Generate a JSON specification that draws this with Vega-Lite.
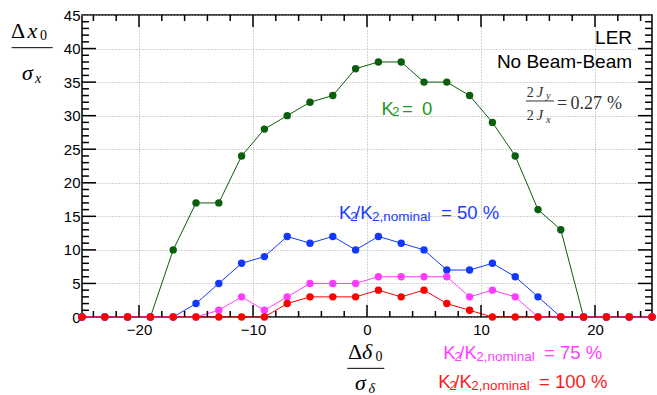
{
  "$schema": "https://vega.github.io/schema/vega-lite/v6.json",
  "width": 570,
  "height": 302,
  "autosize": {"type": "none"},
  "padding": {"left": 82, "top": 15, "right": 5, "bottom": 78},
  "background": "#ffffff",
  "config": {"view": {"stroke": "#000000", "strokeWidth": 1.5}},
  "datasets": {
    "pts": [
      {"x": -25, "y": 0, "c": "g"}, {"x": -23, "y": 0, "c": "g"}, {"x": -21, "y": 0, "c": "g"}, {"x": -19, "y": 0, "c": "g"}, {"x": -17, "y": 10, "c": "g"}, {"x": -15, "y": 17, "c": "g"}, {"x": -13, "y": 17, "c": "g"}, {"x": -11, "y": 24, "c": "g"}, {"x": -9, "y": 28, "c": "g"}, {"x": -7, "y": 30, "c": "g"}, {"x": -5, "y": 32, "c": "g"}, {"x": -3, "y": 33, "c": "g"}, {"x": -1, "y": 37, "c": "g"}, {"x": 1, "y": 38, "c": "g"}, {"x": 3, "y": 38, "c": "g"}, {"x": 5, "y": 35, "c": "g"}, {"x": 7, "y": 35, "c": "g"}, {"x": 9, "y": 33, "c": "g"}, {"x": 11, "y": 29, "c": "g"}, {"x": 13, "y": 24, "c": "g"}, {"x": 15, "y": 16, "c": "g"}, {"x": 17, "y": 13, "c": "g"}, {"x": 19, "y": 0, "c": "g"}, {"x": 21, "y": 0, "c": "g"}, {"x": 23, "y": 0, "c": "g"}, {"x": 25, "y": 0, "c": "g"},
      {"x": -25, "y": 0, "c": "b"}, {"x": -23, "y": 0, "c": "b"}, {"x": -21, "y": 0, "c": "b"}, {"x": -19, "y": 0, "c": "b"}, {"x": -17, "y": 0, "c": "b"}, {"x": -15, "y": 2, "c": "b"}, {"x": -13, "y": 5, "c": "b"}, {"x": -11, "y": 8, "c": "b"}, {"x": -9, "y": 9, "c": "b"}, {"x": -7, "y": 12, "c": "b"}, {"x": -5, "y": 11, "c": "b"}, {"x": -3, "y": 12, "c": "b"}, {"x": -1, "y": 10, "c": "b"}, {"x": 1, "y": 12, "c": "b"}, {"x": 3, "y": 11, "c": "b"}, {"x": 5, "y": 10, "c": "b"}, {"x": 7, "y": 7, "c": "b"}, {"x": 9, "y": 7, "c": "b"}, {"x": 11, "y": 8, "c": "b"}, {"x": 13, "y": 6, "c": "b"}, {"x": 15, "y": 3, "c": "b"}, {"x": 17, "y": 0, "c": "b"}, {"x": 19, "y": 0, "c": "b"}, {"x": 21, "y": 0, "c": "b"}, {"x": 23, "y": 0, "c": "b"}, {"x": 25, "y": 0, "c": "b"},
      {"x": -25, "y": 0, "c": "m"}, {"x": -23, "y": 0, "c": "m"}, {"x": -21, "y": 0, "c": "m"}, {"x": -19, "y": 0, "c": "m"}, {"x": -17, "y": 0, "c": "m"}, {"x": -15, "y": 0, "c": "m"}, {"x": -13, "y": 1, "c": "m"}, {"x": -11, "y": 3, "c": "m"}, {"x": -9, "y": 1, "c": "m"}, {"x": -7, "y": 3, "c": "m"}, {"x": -5, "y": 5, "c": "m"}, {"x": -3, "y": 5, "c": "m"}, {"x": -1, "y": 5, "c": "m"}, {"x": 1, "y": 6, "c": "m"}, {"x": 3, "y": 6, "c": "m"}, {"x": 5, "y": 6, "c": "m"}, {"x": 7, "y": 6, "c": "m"}, {"x": 9, "y": 3, "c": "m"}, {"x": 11, "y": 4, "c": "m"}, {"x": 13, "y": 3, "c": "m"}, {"x": 15, "y": 0, "c": "m"}, {"x": 17, "y": 0, "c": "m"}, {"x": 19, "y": 0, "c": "m"}, {"x": 21, "y": 0, "c": "m"}, {"x": 23, "y": 0, "c": "m"}, {"x": 25, "y": 0, "c": "m"},
      {"x": -25, "y": 0, "c": "r"}, {"x": -23, "y": 0, "c": "r"}, {"x": -21, "y": 0, "c": "r"}, {"x": -19, "y": 0, "c": "r"}, {"x": -17, "y": 0, "c": "r"}, {"x": -15, "y": 0, "c": "r"}, {"x": -13, "y": 0, "c": "r"}, {"x": -11, "y": 0, "c": "r"}, {"x": -9, "y": 0, "c": "r"}, {"x": -7, "y": 2, "c": "r"}, {"x": -5, "y": 3, "c": "r"}, {"x": -3, "y": 3, "c": "r"}, {"x": -1, "y": 3, "c": "r"}, {"x": 1, "y": 4, "c": "r"}, {"x": 3, "y": 3, "c": "r"}, {"x": 5, "y": 4, "c": "r"}, {"x": 7, "y": 2, "c": "r"}, {"x": 9, "y": 1, "c": "r"}, {"x": 11, "y": 0, "c": "r"}, {"x": 13, "y": 0, "c": "r"}, {"x": 15, "y": 0, "c": "r"}, {"x": 17, "y": 0, "c": "r"}, {"x": 19, "y": 0, "c": "r"}, {"x": 21, "y": 0, "c": "r"}, {"x": 23, "y": 0, "c": "r"}, {"x": 25, "y": 0, "c": "r"}
    ],
    "xmaj": [{"v": -20}, {"v": -10}, {"v": 0}, {"v": 10}, {"v": 20}],
    "xmin": [{"v": -24}, {"v": -22}, {"v": -18}, {"v": -16}, {"v": -14}, {"v": -12}, {"v": -8}, {"v": -6}, {"v": -4}, {"v": -2}, {"v": 2}, {"v": 4}, {"v": 6}, {"v": 8}, {"v": 12}, {"v": 14}, {"v": 16}, {"v": 18}, {"v": 22}, {"v": 24}],
    "ymaj": [{"v": 5}, {"v": 10}, {"v": 15}, {"v": 20}, {"v": 25}, {"v": 30}, {"v": 35}, {"v": 40}],
    "ymin": [{"v": 1}, {"v": 2}, {"v": 3}, {"v": 4}, {"v": 6}, {"v": 7}, {"v": 8}, {"v": 9}, {"v": 11}, {"v": 12}, {"v": 13}, {"v": 14}, {"v": 16}, {"v": 17}, {"v": 18}, {"v": 19}, {"v": 21}, {"v": 22}, {"v": 23}, {"v": 24}, {"v": 26}, {"v": 27}, {"v": 28}, {"v": 29}, {"v": 31}, {"v": 32}, {"v": 33}, {"v": 34}, {"v": 36}, {"v": 37}, {"v": 38}, {"v": 39}, {"v": 41}, {"v": 42}, {"v": 43}, {"v": 44}],
    "lab_main": [
      {"x": 1.27, "y": 30.10, "t": "K", "c": "gt"},
      {"x": 3.07, "y": 30.10, "t": "=", "c": "gt"},
      {"x": 4.82, "y": 30.10, "t": "0", "c": "gt"},
      {"x": -2.46, "y": 14.56, "t": "K", "c": "bt"},
      {"x": -1.05, "y": 14.56, "t": "/K", "c": "bt"},
      {"x": 6.49, "y": 14.56, "t": "= 50 %", "c": "bt"},
      {"x": 6.69, "y": -6.30, "t": "K", "c": "mt"},
      {"x": 8.10, "y": -6.30, "t": "/K", "c": "mt"},
      {"x": 15.53, "y": -6.30, "t": "= 75 %", "c": "mt"},
      {"x": 6.25, "y": -10.63, "t": "K", "c": "rt"},
      {"x": 7.66, "y": -10.63, "t": "/K", "c": "rt"},
      {"x": 15.09, "y": -10.63, "t": "= 100 %", "c": "rt"}
    ],
    "lab_sub": [
      {"x": 2.2, "y": 29.88, "t": "2", "c": "gt"},
      {"x": -1.5, "y": 14.30, "t": "2", "c": "bt"},
      {"x": 0.44, "y": 14.30, "t": "2,nominal", "c": "bt"},
      {"x": 7.65, "y": -6.56, "t": "2", "c": "mt"},
      {"x": 9.59, "y": -6.56, "t": "2,nominal", "c": "mt"},
      {"x": 7.21, "y": -10.88, "t": "2", "c": "rt"},
      {"x": 9.15, "y": -10.88, "t": "2,nominal", "c": "rt"}
    ],
    "lab_right": [
      {"x": 23.25, "y": 40.68, "t": "LER", "c": "k"},
      {"x": 23.25, "y": 37.10, "t": "No Beam-Beam", "c": "k"}
    ],
    "title_big": [
      {"x": -31.23, "y": 41.50, "t": "Δ", "c": "k"},
      {"x": -1.67, "y": -6.26, "t": "Δ", "c": "k"}
    ],
    "title_big_i": [
      {"x": -29.78, "y": 41.50, "t": "x", "c": "k"},
      {"x": -30.26, "y": 35.31, "t": "σ", "c": "k"},
      {"x": -0.44, "y": -6.26, "t": "δ", "c": "k"},
      {"x": -1.05, "y": -10.88, "t": "σ", "c": "k"}
    ],
    "title_sub": [
      {"x": -28.68, "y": 41.27, "t": "0", "c": "k"},
      {"x": 0.75, "y": -6.56, "t": "0", "c": "k"}
    ],
    "title_sub_i": [
      {"x": -29.12, "y": 34.87, "t": "x", "c": "k"},
      {"x": 0.13, "y": -11.32, "t": "δ", "c": "k"}
    ],
    "frac_num": [
      {"x": 14.01, "y": 32.83, "t": "2", "c": "gr"},
      {"x": 14.01, "y": 29.35, "t": "2", "c": "gr"}
    ],
    "frac_main": [
      {"x": 16.67, "y": 30.99, "t": "=", "c": "gr"},
      {"x": 17.85, "y": 30.99, "t": "0.27", "c": "gr"},
      {"x": 21.05, "y": 30.99, "t": "%", "c": "gr"}
    ],
    "frac_i": [
      {"x": 14.87, "y": 32.83, "t": "J", "c": "gr"},
      {"x": 14.87, "y": 29.35, "t": "J", "c": "gr"}
    ],
    "frac_sub": [
      {"x": 15.70, "y": 32.48, "t": "y", "c": "gr"},
      {"x": 15.70, "y": 28.91, "t": "x", "c": "gr"}
    ],
    "bars": [
      {"x": -31.17, "x2": -27.57, "y": 40.13, "c": "k"},
      {"x": -1.73, "x2": 1.52, "y": -7.65, "c": "k"},
      {"x": 13.95, "x2": 16.40, "y": 32.19, "c": "gr"}
    ]
  },
  "resolve": {"scale": {"x": "independent", "y": "independent"}, "axis": {"x": "independent", "y": "independent"}},
  "layer": [
    {
      "data": {"name": "pts"},
      "mark": {"type": "point", "opacity": 0},
      "encoding": {
        "x": {"field": "x", "type": "quantitative", "scale": {"domain": [-25, 25], "nice": false},
          "axis": {"orient": "bottom", "values": [-20, -10, 0, 10, 20], "ticks": false, "domain": false, "grid": true, "gridColor": "#a8a8a8", "gridDash": [1, 2], "gridWidth": 1, "labelFont": "Liberation Sans Narrow, Liberation Sans", "labelFontSize": 15, "labelColor": "#000000", "labelPadding": 5, "labelFlush": false, "title": null}},
        "y": {"field": "y", "type": "quantitative", "scale": {"domain": [0, 45], "nice": false},
          "axis": {"orient": "left", "values": [0, 5, 10, 15, 20, 25, 30, 35, 40, 45], "ticks": false, "domain": false, "grid": true, "gridColor": "#a8a8a8", "gridDash": [1, 2], "gridWidth": 1, "labelFont": "Liberation Sans Narrow, Liberation Sans", "labelFontSize": 15, "labelColor": "#000000", "labelPadding": 2, "labelFlush": false, "title": null}}
      }
    },
    {
      "data": {"name": "pts"},
      "transform": [{"filter": "datum.c === 'g'"}],
      "mark": {"type": "line", "strokeWidth": 1},
      "encoding": {
        "x": {"field": "x", "type": "quantitative", "scale": {"domain": [-25, 25], "nice": false}, "axis": null},
        "y": {"field": "y", "type": "quantitative", "scale": {"domain": [0, 45], "nice": false}, "axis": null},
        "color": {"field": "c", "type": "nominal", "scale": {"domain": ["g", "b", "m", "r", "gt", "bt", "mt", "rt", "k", "gr"], "range": ["#0b5e0b", "#1238ff", "#ff3cff", "#ff0000", "#1f961f", "#1a3cff", "#ff40ff", "#ff1a1a", "#000000", "#333333"]}, "legend": null}
      }
    },
    {
      "data": {"name": "pts"},
      "transform": [{"filter": "datum.c === 'g'"}],
      "mark": {"type": "point", "filled": true, "size": 55, "opacity": 1},
      "encoding": {
        "x": {"field": "x", "type": "quantitative", "scale": {"domain": [-25, 25], "nice": false}, "axis": null},
        "y": {"field": "y", "type": "quantitative", "scale": {"domain": [0, 45], "nice": false}, "axis": null},
        "color": {"field": "c", "type": "nominal", "scale": {"domain": ["g", "b", "m", "r", "gt", "bt", "mt", "rt", "k", "gr"], "range": ["#0b5e0b", "#1238ff", "#ff3cff", "#ff0000", "#1f961f", "#1a3cff", "#ff40ff", "#ff1a1a", "#000000", "#333333"]}, "legend": null}
      }
    },
    {
      "data": {"name": "pts"},
      "transform": [{"filter": "datum.c === 'b'"}],
      "mark": {"type": "line", "strokeWidth": 1},
      "encoding": {
        "x": {"field": "x", "type": "quantitative", "scale": {"domain": [-25, 25], "nice": false}, "axis": null},
        "y": {"field": "y", "type": "quantitative", "scale": {"domain": [0, 45], "nice": false}, "axis": null},
        "color": {"field": "c", "type": "nominal", "scale": {"domain": ["g", "b", "m", "r", "gt", "bt", "mt", "rt", "k", "gr"], "range": ["#0b5e0b", "#1238ff", "#ff3cff", "#ff0000", "#1f961f", "#1a3cff", "#ff40ff", "#ff1a1a", "#000000", "#333333"]}, "legend": null}
      }
    },
    {
      "data": {"name": "pts"},
      "transform": [{"filter": "datum.c === 'b'"}],
      "mark": {"type": "point", "filled": true, "size": 55, "opacity": 1},
      "encoding": {
        "x": {"field": "x", "type": "quantitative", "scale": {"domain": [-25, 25], "nice": false}, "axis": null},
        "y": {"field": "y", "type": "quantitative", "scale": {"domain": [0, 45], "nice": false}, "axis": null},
        "color": {"field": "c", "type": "nominal", "scale": {"domain": ["g", "b", "m", "r", "gt", "bt", "mt", "rt", "k", "gr"], "range": ["#0b5e0b", "#1238ff", "#ff3cff", "#ff0000", "#1f961f", "#1a3cff", "#ff40ff", "#ff1a1a", "#000000", "#333333"]}, "legend": null}
      }
    },
    {
      "data": {"name": "pts"},
      "transform": [{"filter": "datum.c === 'm'"}],
      "mark": {"type": "line", "strokeWidth": 1},
      "encoding": {
        "x": {"field": "x", "type": "quantitative", "scale": {"domain": [-25, 25], "nice": false}, "axis": null},
        "y": {"field": "y", "type": "quantitative", "scale": {"domain": [0, 45], "nice": false}, "axis": null},
        "color": {"field": "c", "type": "nominal", "scale": {"domain": ["g", "b", "m", "r", "gt", "bt", "mt", "rt", "k", "gr"], "range": ["#0b5e0b", "#1238ff", "#ff3cff", "#ff0000", "#1f961f", "#1a3cff", "#ff40ff", "#ff1a1a", "#000000", "#333333"]}, "legend": null}
      }
    },
    {
      "data": {"name": "pts"},
      "transform": [{"filter": "datum.c === 'm'"}],
      "mark": {"type": "point", "filled": true, "size": 55, "opacity": 1},
      "encoding": {
        "x": {"field": "x", "type": "quantitative", "scale": {"domain": [-25, 25], "nice": false}, "axis": null},
        "y": {"field": "y", "type": "quantitative", "scale": {"domain": [0, 45], "nice": false}, "axis": null},
        "color": {"field": "c", "type": "nominal", "scale": {"domain": ["g", "b", "m", "r", "gt", "bt", "mt", "rt", "k", "gr"], "range": ["#0b5e0b", "#1238ff", "#ff3cff", "#ff0000", "#1f961f", "#1a3cff", "#ff40ff", "#ff1a1a", "#000000", "#333333"]}, "legend": null}
      }
    },
    {
      "data": {"name": "pts"},
      "transform": [{"filter": "datum.c === 'r'"}],
      "mark": {"type": "line", "strokeWidth": 1},
      "encoding": {
        "x": {"field": "x", "type": "quantitative", "scale": {"domain": [-25, 25], "nice": false}, "axis": null},
        "y": {"field": "y", "type": "quantitative", "scale": {"domain": [0, 45], "nice": false}, "axis": null},
        "color": {"field": "c", "type": "nominal", "scale": {"domain": ["g", "b", "m", "r", "gt", "bt", "mt", "rt", "k", "gr"], "range": ["#0b5e0b", "#1238ff", "#ff3cff", "#ff0000", "#1f961f", "#1a3cff", "#ff40ff", "#ff1a1a", "#000000", "#333333"]}, "legend": null}
      }
    },
    {
      "data": {"name": "pts"},
      "transform": [{"filter": "datum.c === 'r'"}],
      "mark": {"type": "point", "filled": true, "size": 55, "opacity": 1},
      "encoding": {
        "x": {"field": "x", "type": "quantitative", "scale": {"domain": [-25, 25], "nice": false}, "axis": null},
        "y": {"field": "y", "type": "quantitative", "scale": {"domain": [0, 45], "nice": false}, "axis": null},
        "color": {"field": "c", "type": "nominal", "scale": {"domain": ["g", "b", "m", "r", "gt", "bt", "mt", "rt", "k", "gr"], "range": ["#0b5e0b", "#1238ff", "#ff3cff", "#ff0000", "#1f961f", "#1a3cff", "#ff40ff", "#ff1a1a", "#000000", "#333333"]}, "legend": null}
      }
    },
    {
      "data": {"name": "lab_main"},
      "mark": {"type": "text", "align": "left", "baseline": "alphabetic", "font": "Liberation Sans", "fontSize": 18.5},
      "encoding": {
        "x": {"field": "x", "type": "quantitative", "scale": {"domain": [-25, 25], "nice": false}, "axis": null},
        "y": {"field": "y", "type": "quantitative", "scale": {"domain": [0, 45], "nice": false}, "axis": null},
        "text": {"field": "t"},
        "color": {"field": "c", "type": "nominal", "scale": {"domain": ["g", "b", "m", "r", "gt", "bt", "mt", "rt", "k", "gr"], "range": ["#0b5e0b", "#1238ff", "#ff3cff", "#ff0000", "#1f961f", "#1a3cff", "#ff40ff", "#ff1a1a", "#000000", "#333333"]}, "legend": null}
      }
    },
    {
      "data": {"name": "lab_sub"},
      "mark": {"type": "text", "align": "left", "baseline": "alphabetic", "font": "Liberation Sans", "fontSize": 13.5},
      "encoding": {
        "x": {"field": "x", "type": "quantitative", "scale": {"domain": [-25, 25], "nice": false}, "axis": null},
        "y": {"field": "y", "type": "quantitative", "scale": {"domain": [0, 45], "nice": false}, "axis": null},
        "text": {"field": "t"},
        "color": {"field": "c", "type": "nominal", "scale": {"domain": ["g", "b", "m", "r", "gt", "bt", "mt", "rt", "k", "gr"], "range": ["#0b5e0b", "#1238ff", "#ff3cff", "#ff0000", "#1f961f", "#1a3cff", "#ff40ff", "#ff1a1a", "#000000", "#333333"]}, "legend": null}
      }
    },
    {
      "data": {"name": "lab_right"},
      "mark": {"type": "text", "align": "right", "baseline": "alphabetic", "font": "Liberation Sans", "fontSize": 19},
      "encoding": {
        "x": {"field": "x", "type": "quantitative", "scale": {"domain": [-25, 25], "nice": false}, "axis": null},
        "y": {"field": "y", "type": "quantitative", "scale": {"domain": [0, 45], "nice": false}, "axis": null},
        "text": {"field": "t"},
        "color": {"field": "c", "type": "nominal", "scale": {"domain": ["g", "b", "m", "r", "gt", "bt", "mt", "rt", "k", "gr"], "range": ["#0b5e0b", "#1238ff", "#ff3cff", "#ff0000", "#1f961f", "#1a3cff", "#ff40ff", "#ff1a1a", "#000000", "#333333"]}, "legend": null}
      }
    },
    {
      "data": {"name": "title_big"},
      "mark": {"type": "text", "align": "left", "baseline": "alphabetic", "font": "Liberation Serif", "fontSize": 22},
      "encoding": {
        "x": {"field": "x", "type": "quantitative", "scale": {"domain": [-25, 25], "nice": false}, "axis": null},
        "y": {"field": "y", "type": "quantitative", "scale": {"domain": [0, 45], "nice": false}, "axis": null},
        "text": {"field": "t"},
        "color": {"field": "c", "type": "nominal", "scale": {"domain": ["g", "b", "m", "r", "gt", "bt", "mt", "rt", "k", "gr"], "range": ["#0b5e0b", "#1238ff", "#ff3cff", "#ff0000", "#1f961f", "#1a3cff", "#ff40ff", "#ff1a1a", "#000000", "#333333"]}, "legend": null}
      }
    },
    {
      "data": {"name": "title_big_i"},
      "mark": {"type": "text", "align": "left", "baseline": "alphabetic", "font": "Liberation Serif", "fontStyle": "italic", "fontSize": 22},
      "encoding": {
        "x": {"field": "x", "type": "quantitative", "scale": {"domain": [-25, 25], "nice": false}, "axis": null},
        "y": {"field": "y", "type": "quantitative", "scale": {"domain": [0, 45], "nice": false}, "axis": null},
        "text": {"field": "t"},
        "color": {"field": "c", "type": "nominal", "scale": {"domain": ["g", "b", "m", "r", "gt", "bt", "mt", "rt", "k", "gr"], "range": ["#0b5e0b", "#1238ff", "#ff3cff", "#ff0000", "#1f961f", "#1a3cff", "#ff40ff", "#ff1a1a", "#000000", "#333333"]}, "legend": null}
      }
    },
    {
      "data": {"name": "title_sub"},
      "mark": {"type": "text", "align": "left", "baseline": "alphabetic", "font": "Liberation Serif", "fontSize": 14},
      "encoding": {
        "x": {"field": "x", "type": "quantitative", "scale": {"domain": [-25, 25], "nice": false}, "axis": null},
        "y": {"field": "y", "type": "quantitative", "scale": {"domain": [0, 45], "nice": false}, "axis": null},
        "text": {"field": "t"},
        "color": {"field": "c", "type": "nominal", "scale": {"domain": ["g", "b", "m", "r", "gt", "bt", "mt", "rt", "k", "gr"], "range": ["#0b5e0b", "#1238ff", "#ff3cff", "#ff0000", "#1f961f", "#1a3cff", "#ff40ff", "#ff1a1a", "#000000", "#333333"]}, "legend": null}
      }
    },
    {
      "data": {"name": "title_sub_i"},
      "mark": {"type": "text", "align": "left", "baseline": "alphabetic", "font": "Liberation Serif", "fontStyle": "italic", "fontSize": 14},
      "encoding": {
        "x": {"field": "x", "type": "quantitative", "scale": {"domain": [-25, 25], "nice": false}, "axis": null},
        "y": {"field": "y", "type": "quantitative", "scale": {"domain": [0, 45], "nice": false}, "axis": null},
        "text": {"field": "t"},
        "color": {"field": "c", "type": "nominal", "scale": {"domain": ["g", "b", "m", "r", "gt", "bt", "mt", "rt", "k", "gr"], "range": ["#0b5e0b", "#1238ff", "#ff3cff", "#ff0000", "#1f961f", "#1a3cff", "#ff40ff", "#ff1a1a", "#000000", "#333333"]}, "legend": null}
      }
    },
    {
      "data": {"name": "frac_num"},
      "mark": {"type": "text", "align": "left", "baseline": "alphabetic", "font": "Liberation Serif", "fontSize": 14},
      "encoding": {
        "x": {"field": "x", "type": "quantitative", "scale": {"domain": [-25, 25], "nice": false}, "axis": null},
        "y": {"field": "y", "type": "quantitative", "scale": {"domain": [0, 45], "nice": false}, "axis": null},
        "text": {"field": "t"},
        "color": {"field": "c", "type": "nominal", "scale": {"domain": ["g", "b", "m", "r", "gt", "bt", "mt", "rt", "k", "gr"], "range": ["#0b5e0b", "#1238ff", "#ff3cff", "#ff0000", "#1f961f", "#1a3cff", "#ff40ff", "#ff1a1a", "#000000", "#333333"]}, "legend": null}
      }
    },
    {
      "data": {"name": "frac_main"},
      "mark": {"type": "text", "align": "left", "baseline": "alphabetic", "font": "Liberation Serif", "fontSize": 18},
      "encoding": {
        "x": {"field": "x", "type": "quantitative", "scale": {"domain": [-25, 25], "nice": false}, "axis": null},
        "y": {"field": "y", "type": "quantitative", "scale": {"domain": [0, 45], "nice": false}, "axis": null},
        "text": {"field": "t"},
        "color": {"field": "c", "type": "nominal", "scale": {"domain": ["g", "b", "m", "r", "gt", "bt", "mt", "rt", "k", "gr"], "range": ["#0b5e0b", "#1238ff", "#ff3cff", "#ff0000", "#1f961f", "#1a3cff", "#ff40ff", "#ff1a1a", "#000000", "#333333"]}, "legend": null}
      }
    },
    {
      "data": {"name": "frac_i"},
      "mark": {"type": "text", "align": "left", "baseline": "alphabetic", "font": "Liberation Serif", "fontStyle": "italic", "fontSize": 15},
      "encoding": {
        "x": {"field": "x", "type": "quantitative", "scale": {"domain": [-25, 25], "nice": false}, "axis": null},
        "y": {"field": "y", "type": "quantitative", "scale": {"domain": [0, 45], "nice": false}, "axis": null},
        "text": {"field": "t"},
        "color": {"field": "c", "type": "nominal", "scale": {"domain": ["g", "b", "m", "r", "gt", "bt", "mt", "rt", "k", "gr"], "range": ["#0b5e0b", "#1238ff", "#ff3cff", "#ff0000", "#1f961f", "#1a3cff", "#ff40ff", "#ff1a1a", "#000000", "#333333"]}, "legend": null}
      }
    },
    {
      "data": {"name": "frac_sub"},
      "mark": {"type": "text", "align": "left", "baseline": "alphabetic", "font": "Liberation Serif", "fontStyle": "italic", "fontSize": 10.5},
      "encoding": {
        "x": {"field": "x", "type": "quantitative", "scale": {"domain": [-25, 25], "nice": false}, "axis": null},
        "y": {"field": "y", "type": "quantitative", "scale": {"domain": [0, 45], "nice": false}, "axis": null},
        "text": {"field": "t"},
        "color": {"field": "c", "type": "nominal", "scale": {"domain": ["g", "b", "m", "r", "gt", "bt", "mt", "rt", "k", "gr"], "range": ["#0b5e0b", "#1238ff", "#ff3cff", "#ff0000", "#1f961f", "#1a3cff", "#ff40ff", "#ff1a1a", "#000000", "#333333"]}, "legend": null}
      }
    },
    {
      "data": {"name": "bars"},
      "mark": {"type": "rule", "strokeWidth": 1},
      "encoding": {
        "x": {"field": "x", "type": "quantitative", "scale": {"domain": [-25, 25], "nice": false}, "axis": null},
        "x2": {"field": "x2"},
        "y": {"field": "y", "type": "quantitative", "scale": {"domain": [0, 45], "nice": false}, "axis": null},
        "color": {"field": "c", "type": "nominal", "scale": {"domain": ["g", "b", "m", "r", "gt", "bt", "mt", "rt", "k", "gr"], "range": ["#0b5e0b", "#1238ff", "#ff3cff", "#ff0000", "#1f961f", "#1a3cff", "#ff40ff", "#ff1a1a", "#000000", "#333333"]}, "legend": null}
      }
    },
    {
      "data": {"name": "xmaj"},
      "mark": {"type": "rule", "strokeWidth": 1.5, "color": "#000000"},
      "encoding": {
        "x": {"field": "v", "type": "quantitative", "scale": {"domain": [-25, 25], "nice": false}, "axis": null},
        "y": {"datum": 0, "type": "quantitative", "scale": {"domain": [0, 45], "nice": false}, "axis": null},
        "y2": {"datum": 1.79}
      }
    },
    {
      "data": {"name": "xmaj"},
      "mark": {"type": "rule", "strokeWidth": 1.5, "color": "#000000"},
      "encoding": {
        "x": {"field": "v", "type": "quantitative", "scale": {"domain": [-25, 25], "nice": false}, "axis": null},
        "y": {"datum": 45, "type": "quantitative", "scale": {"domain": [0, 45], "nice": false}, "axis": null},
        "y2": {"datum": 43.21}
      }
    },
    {
      "data": {"name": "xmin"},
      "mark": {"type": "rule", "strokeWidth": 1.5, "color": "#000000"},
      "encoding": {
        "x": {"field": "v", "type": "quantitative", "scale": {"domain": [-25, 25], "nice": false}, "axis": null},
        "y": {"datum": 0, "type": "quantitative", "scale": {"domain": [0, 45], "nice": false}, "axis": null},
        "y2": {"datum": 0.89}
      }
    },
    {
      "data": {"name": "xmin"},
      "mark": {"type": "rule", "strokeWidth": 1.5, "color": "#000000"},
      "encoding": {
        "x": {"field": "v", "type": "quantitative", "scale": {"domain": [-25, 25], "nice": false}, "axis": null},
        "y": {"datum": 45, "type": "quantitative", "scale": {"domain": [0, 45], "nice": false}, "axis": null},
        "y2": {"datum": 44.11}
      }
    },
    {
      "data": {"name": "ymaj"},
      "mark": {"type": "rule", "strokeWidth": 1.5, "color": "#000000"},
      "encoding": {
        "y": {"field": "v", "type": "quantitative", "scale": {"domain": [0, 45], "nice": false}, "axis": null},
        "x": {"datum": -25, "type": "quantitative", "scale": {"domain": [-25, 25], "nice": false}, "axis": null},
        "x2": {"datum": -23.77}
      }
    },
    {
      "data": {"name": "ymaj"},
      "mark": {"type": "rule", "strokeWidth": 1.5, "color": "#000000"},
      "encoding": {
        "y": {"field": "v", "type": "quantitative", "scale": {"domain": [0, 45], "nice": false}, "axis": null},
        "x": {"datum": 25, "type": "quantitative", "scale": {"domain": [-25, 25], "nice": false}, "axis": null},
        "x2": {"datum": 23.77}
      }
    },
    {
      "data": {"name": "ymin"},
      "mark": {"type": "rule", "strokeWidth": 1.5, "color": "#000000"},
      "encoding": {
        "y": {"field": "v", "type": "quantitative", "scale": {"domain": [0, 45], "nice": false}, "axis": null},
        "x": {"datum": -25, "type": "quantitative", "scale": {"domain": [-25, 25], "nice": false}, "axis": null},
        "x2": {"datum": -24.39}
      }
    },
    {
      "data": {"name": "ymin"},
      "mark": {"type": "rule", "strokeWidth": 1.5, "color": "#000000"},
      "encoding": {
        "y": {"field": "v", "type": "quantitative", "scale": {"domain": [0, 45], "nice": false}, "axis": null},
        "x": {"datum": 25, "type": "quantitative", "scale": {"domain": [-25, 25], "nice": false}, "axis": null},
        "x2": {"datum": 24.39}
      }
    }
  ]
}
